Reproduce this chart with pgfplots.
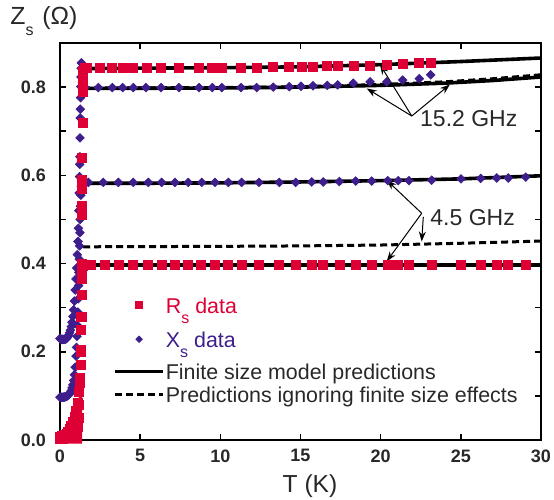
\documentclass[border=0pt]{standalone}
\usepackage{pgfplots}
\pgfplotsset{compat=1.18}
\usepackage{fontspec}
\setmainfont{Liberation Sans}
\usetikzlibrary{arrows.meta}
\definecolor{rsred}{RGB}{222,0,52}
\definecolor{xspurple}{RGB}{62,30,140}
\definecolor{txt}{RGB}{40,40,40}
\pgfplotsset{
  rsmark/.style={only marks, mark=square*, mark size=2.25pt, color=rsred},
  xsmark/.style={only marks, mark=square*, mark size=1.5pt, mark options={rotate=45}, color=xspurple},
  modelline/.style={black, line width=1.8pt, no marks},
  nofsline/.style={black, line width=1.5pt, no marks, dash pattern=on 3.5pt off 2pt},
}
\begin{document}
\begin{tikzpicture}
\begin{axis}[
  at={(0,0)}, anchor=south west,
  scale only axis, width=240.5pt, height=198.5pt,
  xmin=0, xmax=30, ymin=0, ymax=0.9,
  xtick={0,5,10,15,20,25,30},
  ytick={0,0.2,0.4,0.6,0.8},
  minor ytick={0.1,0.3,0.5,0.7},
  tick align=inside,
  major tick length=3pt, minor tick length=3pt,
  axis line style={line width=1pt},
  tick style={black, line width=0.8pt},
  /pgf/number format/assume math mode=true,
  tick label style={font=\fontsize{9}{10}\selectfont\bfseries, text=txt},
  yticklabel style={/pgf/number format/.cd, fixed, fixed zerofill, precision=1, /tikz/.cd, xshift=-3.5pt},
  xticklabel style={yshift=-1.2pt},
  clip=false,
  legend style={at={(axis cs:3.30,0.326)}, anchor=north west, draw=none, fill=none,
    inner sep=0pt, row sep=0.5pt, column sep=0pt,
    nodes={inner sep=0.5pt, text depth=, text=txt},
    cells={anchor=base west},
    font=\fontsize{10.7}{12}\selectfont},
  legend image code/.code={\draw[mark repeat=2,mark phase=2,#1] plot coordinates {(0pt,4.2pt) (12pt,4.2pt) (24pt,4.2pt)};},
]
% dense cloud of low-temperature R_s points
\addplot[draw=none, fill=rsred, forget plot] coordinates {
(-0.05,-0.008) (-0.05,0.016) (0.3,0.018) (0.6,0.028) (0.83,0.05) (1.0,0.07) (1.1,0.085) (1.25,0.11) (1.38,0.135) (1.38,-0.008)} -- cycle;

% model lines
\addplot[modelline, forget plot] coordinates {(1.45,0.842)(5,0.843)(10,0.844)(15,0.846)(20,0.851)(25,0.858)(30,0.866)};
\addplot[modelline, forget plot] coordinates {(1.45,0.797)(10,0.798)(15,0.800)(20,0.804)(24,0.809)(27,0.815)(30,0.823)};
\addplot[nofsline, forget plot] coordinates {(1.45,0.798)(10,0.799)(15,0.801)(20,0.806)(24,0.812)(27,0.819)(30,0.828)};
\addplot[modelline, forget plot] coordinates {(1.45,0.582)(5,0.582)(10,0.583)(15,0.585)(20,0.588)(25,0.592)(30,0.599)};
\addplot[nofsline, forget plot] coordinates {(1.45,0.438)(10,0.439)(15,0.440)(20,0.442)(25,0.446)(30,0.451)};
\addplot[modelline, forget plot] coordinates {(1.45,0.397)(10,0.397)(20,0.397)(30,0.397)};

% X_s 15.2 GHz
\addplot[xsmark, forget plot] coordinates {
(0.00,0.230)(0.05,0.229)(0.10,0.228)(0.15,0.228)(0.20,0.228)(0.25,0.228)(0.30,0.228)(0.35,0.229)(0.40,0.230)(0.45,0.232)(0.50,0.235)(0.55,0.238)(0.60,0.243)(0.65,0.249)(0.70,0.257)(0.75,0.267)(0.80,0.280)(0.85,0.295)(0.90,0.315)(0.95,0.340)(1.00,0.365)(1.04,0.390)(1.08,0.420)(1.12,0.450)(1.15,0.480)(1.18,0.520)(1.20,0.560)(1.22,0.597)(1.23,0.625)(1.24,0.642)(1.25,0.685)(1.26,0.730)(1.27,0.750)(1.28,0.776)(1.30,0.801)(1.31,0.823)(1.32,0.843)(1.33,0.855)(1.40,0.810)(1.50,0.800)(1.56,0.799)
(2.39,0.799)(3.26,0.799)(3.91,0.799)(4.57,0.799)(5.36,0.799)(6.30,0.799)(7.42,0.799)(8.67,0.799)(9.50,0.799)(10.09,0.799)(11.29,0.799)(12.27,0.799)(13.30,0.800)(14.30,0.801)(15.03,0.802)(15.78,0.803)(16.67,0.804)(17.32,0.805)(18.29,0.809)(19.34,0.812)(20.38,0.812)(21.37,0.816)(22.41,0.819)(23.12,0.828)};

% X_s 4.5 GHz
\addplot[xsmark, forget plot] coordinates {
(0.00,0.097)(0.05,0.097)(0.10,0.097)(0.15,0.097)(0.20,0.097)(0.25,0.097)(0.30,0.098)(0.35,0.098)(0.40,0.099)(0.45,0.100)(0.50,0.101)(0.55,0.103)(0.60,0.105)(0.65,0.108)(0.70,0.112)(0.75,0.118)(0.80,0.125)(0.85,0.135)(0.90,0.148)(0.95,0.165)(1.00,0.190)(1.03,0.210)(1.06,0.235)(1.09,0.260)(1.12,0.290)(1.14,0.320)(1.16,0.350)(1.18,0.380)(1.20,0.410)(1.22,0.440)(1.24,0.470)(1.26,0.500)(1.28,0.530)(1.30,0.555)(1.33,0.575)(1.35,0.590)(1.40,0.587)(1.45,0.584)
(1.77,0.584)(2.70,0.584)(3.64,0.584)(4.57,0.584)(5.51,0.584)(6.34,0.584)(7.17,0.584)(8.00,0.584)(8.84,0.584)(9.67,0.584)(10.50,0.584)(11.33,0.584)(12.41,0.584)(13.68,0.584)(14.70,0.584)(15.70,0.585)(16.42,0.585)(17.42,0.586)(18.44,0.587)(19.44,0.587)(20.44,0.588)(21.10,0.588)(21.77,0.588)(23.18,0.589)(25.01,0.592)(26.24,0.593)(27.24,0.594)(27.96,0.594)(29.05,0.596)};

% R_s 4.5 GHz
\addplot[rsmark, forget plot] coordinates {
(0.00,0.003)(0.10,0.003)(0.20,0.003)(0.30,0.004)(0.40,0.004)(0.50,0.005)(0.60,0.006)(0.70,0.007)(0.80,0.009)(0.90,0.011)(1.00,0.015)(1.05,0.020)(1.10,0.030)(1.15,0.050)(1.20,0.080)(1.25,0.130)(1.28,0.170)(1.30,0.204)(1.32,0.250)(1.34,0.280)(1.35,0.330)(1.36,0.366)(1.38,0.385)(1.40,0.395)(1.45,0.397)
(1.52,0.397)(1.93,0.397)(2.81,0.397)(3.70,0.397)(4.57,0.397)(5.51,0.397)(6.34,0.397)(7.17,0.397)(8.00,0.397)(8.79,0.397)(9.67,0.397)(10.50,0.397)(11.33,0.397)(12.41,0.397)(13.66,0.397)(14.70,0.397)(15.70,0.397)(16.42,0.397)(17.46,0.397)(18.44,0.397)(19.44,0.397)(20.44,0.397)(21.10,0.397)(21.79,0.397)(23.22,0.397)(25.01,0.397)(26.24,0.397)(27.24,0.397)(27.96,0.397)(29.05,0.397)};

% R_s 15.2 GHz
\addplot[rsmark, forget plot] coordinates {
(0.00,0.008)(0.10,0.009)(0.20,0.010)(0.30,0.012)(0.40,0.014)(0.50,0.018)(0.60,0.025)(0.70,0.032)(0.80,0.042)(0.90,0.052)(1.00,0.065)(1.10,0.085)(1.20,0.110)(1.25,0.140)(1.30,0.200)(1.32,0.280)(1.34,0.400)(1.35,0.510)(1.36,0.530)(1.37,0.570)(1.38,0.590)(1.39,0.640)(1.40,0.719)(1.41,0.790)(1.42,0.810)(1.43,0.826)(1.45,0.836)(1.56,0.843)
(1.67,0.844)(2.49,0.844)(3.26,0.844)(3.95,0.844)(4.57,0.844)(5.41,0.844)(6.30,0.844)(7.42,0.844)(8.67,0.844)(9.50,0.844)(10.09,0.844)(11.29,0.844)(12.27,0.844)(13.30,0.845)(14.30,0.845)(15.07,0.846)(15.80,0.846)(16.67,0.847)(17.32,0.848)(18.34,0.848)(19.34,0.849)(20.38,0.851)(21.41,0.853)(22.41,0.854)(23.12,0.856)};

% legend
\addlegendimage{rsmark, every mark/.append style={scale=0.75}}
\addlegendentry{\textcolor{rsred}{R\raisebox{-5pt}{\fontsize{8}{8}\selectfont s} data}\rule[-8.05pt]{0pt}{1pt}}
\addlegendimage{xsmark, every mark/.append style={scale=0.75}}
\addlegendentry{\textcolor{xspurple}{X\raisebox{-5pt}{\fontsize{8}{8}\selectfont s} data}\rule[-6.85pt]{0pt}{1pt}}
\addlegendimage{modelline}
\addlegendentry{Finite size model predictions}
\addlegendimage{nofsline}
\addlegendentry{Predictions ignoring finite size effects}

% annotations
\draw[-{Stealth[length=5pt,width=3.5pt]}, line width=0.5pt] (axis cs:21.94,0.7345) -- (axis cs:19.96,0.851);
\draw[-{Stealth[length=5pt,width=3.5pt]}, line width=0.5pt] (axis cs:21.94,0.7345) -- (axis cs:19.13,0.797);
\draw[-{Stealth[length=5pt,width=3.5pt]}, line width=0.5pt] (axis cs:21.94,0.7345) -- (axis cs:24.32,0.806);
\node[anchor=base west, font=\fontsize{11.5}{13}\selectfont, text=txt, inner sep=0pt] at (axis cs:22.44,0.7097) {15.2 GHz};

\draw[-{Stealth[length=5pt,width=3.5pt]}, line width=0.5pt] (axis cs:22.56,0.514) -- (axis cs:20.38,0.589);
\draw[-{Stealth[length=5pt,width=3.5pt]}, line width=0.5pt] (axis cs:22.56,0.514) -- (axis cs:20.38,0.405);
\draw[-{Stealth[length=5pt,width=3.5pt]}, line width=0.5pt] (axis cs:22.66,0.506) -- (axis cs:22.56,0.450);
\node[anchor=base west, font=\fontsize{11.5}{13}\selectfont, text=txt, inner sep=0pt] at (axis cs:23.08,0.4874) {4.5 GHz};

% axis labels
\node[anchor=base west, font=\fontsize{12.4}{14}\selectfont, text=txt, inner sep=0pt, xshift=-25pt, yshift=9.5pt] at (rel axis cs:0,1) {Z\raisebox{-5.5pt}{\fontsize{8}{8}\selectfont s}\hspace{1pt} (Ω)};
\node[anchor=base, font=\fontsize{12.3}{14}\selectfont, text=txt, inner sep=0pt, xshift=4.75pt, yshift=-26.5pt] at (rel axis cs:0.5,0) {T (K)};
\end{axis}
\pgfresetboundingbox
\path[use as bounding box] (-30pt,-30pt) rectangle (247pt,220pt);
\end{tikzpicture}
\end{document}
